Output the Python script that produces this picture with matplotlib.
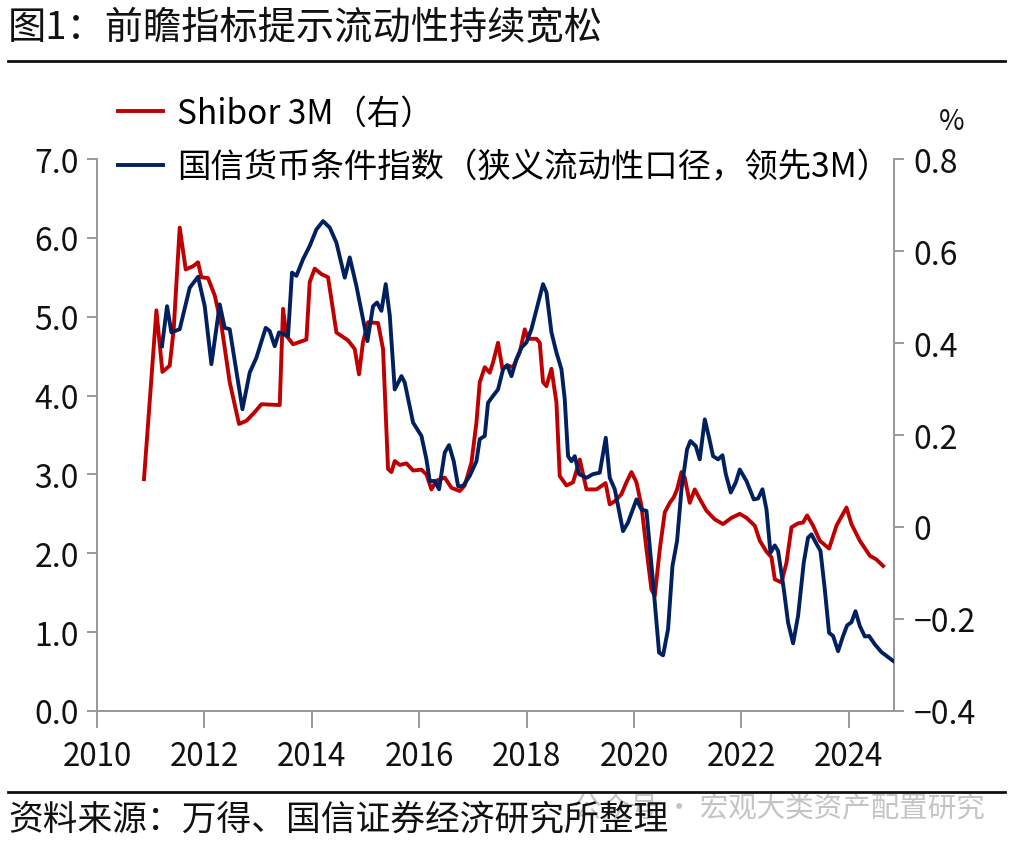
# -*- coding: utf-8 -*-
"""图1：前瞻指标提示流动性持续宽松 — Shibor 3M 与国信货币条件指数"""
import matplotlib
matplotlib.use("Agg")
import matplotlib.pyplot as plt
from matplotlib.lines import Line2D
from matplotlib.ticker import FuncFormatter, MultipleLocator

# ---------------------------------------------------------------- 数据
shibor_t = [2010.875, 2011.106, 2011.218, 2011.354, 2011.428, 2011.540, 2011.652,
            2011.788, 2011.881, 2011.944, 2012.067, 2012.192, 2012.317, 2012.471,
            2012.644, 2012.782, 2012.937, 2013.061, 2013.402, 2013.464, 2013.527,
            2013.650, 2013.899, 2013.961, 2014.054, 2014.179, 2014.302, 2014.458,
            2014.674, 2014.799, 2014.879, 2014.953, 2015.047, 2015.233, 2015.326,
            2015.419, 2015.482, 2015.544, 2015.637, 2015.762, 2015.885, 2016.041,
            2016.134, 2016.227, 2016.320, 2016.475, 2016.600, 2016.754, 2016.847,
            2016.972, 2017.065, 2017.127, 2017.220, 2017.313, 2017.374, 2017.467,
            2017.549, 2017.654, 2017.747, 2017.872, 2017.965, 2018.026, 2018.183,
            2018.244, 2018.305, 2018.369, 2018.462, 2018.555, 2018.616, 2018.741,
            2018.864, 2018.989, 2019.114, 2019.300, 2019.470, 2019.547, 2019.641,
            2019.765, 2019.858, 2019.951, 2020.045, 2020.138, 2020.231, 2020.324,
            2020.386, 2020.479, 2020.572, 2020.665, 2020.739, 2020.801, 2020.883,
            2020.944, 2021.037, 2021.130, 2021.223, 2021.348, 2021.503, 2021.657,
            2021.814, 2021.968, 2022.093, 2022.248, 2022.341, 2022.466, 2022.559,
            2022.620, 2022.745, 2022.838, 2022.931, 2023.054, 2023.147, 2023.222,
            2023.333, 2023.458, 2023.631, 2023.769, 2023.955, 2024.048, 2024.203,
            2024.389, 2024.514, 2024.637]
shibor_v = [2.94, 5.08, 4.30, 4.38, 4.84, 6.13, 5.60,
            5.64, 5.69, 5.50, 5.49, 5.27, 4.89, 4.17,
            3.64, 3.68, 3.79, 3.89, 3.88, 5.10, 4.76,
            4.65, 4.71, 5.44, 5.61, 5.54, 5.50, 4.80,
            4.70, 4.59, 4.27, 4.68, 4.93, 4.92, 4.59,
            3.07, 3.03, 3.17, 3.12, 3.14, 3.05, 3.06,
            3.00, 2.81, 2.92, 2.96, 2.83, 2.79, 2.86,
            3.15, 3.66, 4.17, 4.36, 4.29, 4.42, 4.67,
            4.34, 4.38, 4.36, 4.55, 4.84, 4.72, 4.72,
            4.67, 4.17, 4.12, 4.34, 3.91, 2.98, 2.86,
            2.90, 3.19, 2.81, 2.81, 2.89, 2.62, 2.66,
            2.75, 2.90, 3.03, 2.90, 2.60, 2.05, 1.54,
            1.46, 2.05, 2.52, 2.64, 2.71, 2.81, 3.03,
            2.96, 2.64, 2.81, 2.69, 2.54, 2.43, 2.37,
            2.45, 2.50, 2.45, 2.35, 2.16, 2.02, 1.95,
            1.67, 1.63, 1.88, 2.33, 2.38, 2.39, 2.48,
            2.35, 2.16, 2.06, 2.35, 2.58, 2.37, 2.16,
            1.97, 1.92, 1.84]

mci_t = [2011.210, 2011.304, 2011.385, 2011.540, 2011.726, 2011.881, 2012.006,
         2012.130, 2012.285, 2012.378, 2012.471, 2012.708, 2012.844, 2012.968,
         2013.141, 2013.216, 2013.309, 2013.389, 2013.557, 2013.631, 2013.713,
         2013.836, 2013.961, 2014.086, 2014.209, 2014.333, 2014.458, 2014.613,
         2014.706, 2014.830, 2015.035, 2015.140, 2015.214, 2015.296, 2015.376,
         2015.451, 2015.544, 2015.669, 2015.730, 2015.885, 2016.041, 2016.134,
         2016.196, 2016.289, 2016.369, 2016.475, 2016.555, 2016.642, 2016.723,
         2016.816, 2016.940, 2017.065, 2017.127, 2017.220, 2017.281, 2017.374,
         2017.467, 2017.561, 2017.635, 2017.717, 2017.810, 2017.903, 2017.996,
         2018.089, 2018.183, 2018.305, 2018.369, 2018.462, 2018.555, 2018.648,
         2018.709, 2018.771, 2018.834, 2018.896, 2018.976, 2019.114, 2019.236,
         2019.361, 2019.473, 2019.547, 2019.641, 2019.795, 2019.888, 2020.045,
         2020.138, 2020.231, 2020.354, 2020.466, 2020.540, 2020.633, 2020.715,
         2020.801, 2020.883, 2020.987, 2021.050, 2021.149, 2021.223, 2021.317,
         2021.397, 2021.471, 2021.564, 2021.646, 2021.708, 2021.801, 2021.894,
         2021.968, 2022.093, 2022.229, 2022.309, 2022.391, 2022.466, 2022.540,
         2022.620, 2022.682, 2022.788, 2022.868, 2022.961, 2023.054, 2023.160,
         2023.240, 2023.304, 2023.384, 2023.471, 2023.551, 2023.631, 2023.706,
         2023.799, 2023.892, 2023.966, 2024.048, 2024.123, 2024.203, 2024.296,
         2024.376, 2024.482, 2024.607, 2024.823]
mci_v = [0.393, 0.480, 0.423, 0.430, 0.520, 0.544, 0.480,
         0.354, 0.484, 0.433, 0.430, 0.256, 0.336, 0.368,
         0.433, 0.426, 0.393, 0.423, 0.415, 0.553, 0.546,
         0.582, 0.611, 0.647, 0.665, 0.651, 0.618, 0.542,
         0.586, 0.524, 0.404, 0.480, 0.488, 0.470, 0.528,
         0.460, 0.299, 0.328, 0.314, 0.227, 0.198, 0.147,
         0.100, 0.100, 0.082, 0.162, 0.178, 0.143, 0.089,
         0.089, 0.111, 0.143, 0.191, 0.198, 0.270, 0.285,
         0.299, 0.343, 0.352, 0.328, 0.365, 0.390, 0.401,
         0.430, 0.473, 0.528, 0.510, 0.423, 0.379, 0.343,
         0.278, 0.154, 0.143, 0.154, 0.115, 0.107, 0.115,
         0.118, 0.194, 0.107, 0.082, -0.009, 0.010, 0.060,
         0.038, 0.035, -0.121, -0.273, -0.279, -0.222, -0.085,
         -0.030, 0.082, 0.169, 0.187, 0.176, 0.147, 0.234,
         0.194, 0.154, 0.147, 0.156, 0.115, 0.075, 0.097,
         0.125, 0.100, 0.060, 0.062, 0.082, 0.038, -0.056,
         -0.040, -0.052, -0.135, -0.208, -0.253, -0.193, -0.077,
         -0.023, -0.016, -0.034, -0.052, -0.135, -0.230, -0.237,
         -0.270, -0.237, -0.214, -0.207, -0.183, -0.215, -0.238,
         -0.237, -0.255, -0.272, -0.291]

x_ticks = [2010, 2012, 2014, 2016, 2018, 2020, 2022, 2024]

TITLE = "图1：前瞻指标提示流动性持续宽松"
LABEL_SHIBOR = "Shibor 3M（右）"
LABEL_MCI = "国信货币条件指数（狭义流动性口径，领先3M）"
SOURCE = "资料来源：万得、国信证券经济研究所整理"
WATERMARK = "公众号 · 宏观大类资产配置研究"

# ---------------------------------------------------------------- 样式
RED = "#c00000"
NAVY = "#002060"
AXIS = "#9a9a9a"
INK = "#111111"

plt.rcParams["font.family"] = ["Noto Sans CJK SC", "DejaVu Sans"]
plt.rcParams["axes.unicode_minus"] = True

W, H = 1017, 853
fig = plt.figure(figsize=(W / 100, H / 100), dpi=100)
fig.patch.set_facecolor("white")

ax = fig.add_axes([97 / W, 1 - 712 / H, (894 - 97) / W, (712 - 160) / H])
ax2 = ax.twinx()

ax.plot(shibor_t, shibor_v, color=RED, lw=2.8, solid_joinstyle="round", zorder=3)
ax2.plot(mci_t, mci_v, color=NAVY, lw=2.8, solid_joinstyle="round", zorder=3)

ax.set_xlim(2010, 2024.84)
ax.set_ylim(0, 7)
ax2.set_ylim(-0.4, 0.8)
ax.set_xticks(x_ticks)
ax.yaxis.set_major_locator(MultipleLocator(1.0))
ax2.yaxis.set_major_locator(MultipleLocator(0.2))
ax.yaxis.set_major_formatter(FuncFormatter(lambda v, p: f"{v:.1f}"))
ax2.yaxis.set_major_formatter(FuncFormatter(
    lambda v, p: "0" if abs(v) < 1e-9 else f"{v:.1f}".replace("-", "−")))

for a in (ax, ax2):
    a.spines["top"].set_visible(False)
    for s in ("left", "right", "bottom"):
        a.spines[s].set_color(AXIS)
        a.spines[s].set_linewidth(1.4)
    a.tick_params(colors=AXIS, width=1.4, length=7, labelcolor=INK,
                  labelsize=23, direction="out")
ax.tick_params(axis="x", length=12, pad=9, labelsize=22.5)
ax.tick_params(axis="y", pad=6)
ax2.tick_params(axis="y", pad=7)

# 图例
handles = [Line2D([], [], color=RED, lw=2.8), Line2D([], [], color=NAVY, lw=2.8)]
fig.legend(handles, [LABEL_SHIBOR, LABEL_MCI], loc="upper left",
           bbox_to_anchor=(118 / W, 1 - 97 / H), frameon=False, fontsize=24,
           handlelength=1.35, handletextpad=0.42, labelspacing=0.55, borderpad=0,
           borderaxespad=0)
fig.text(952 / W, 1 - 122 / H, "%", fontsize=20, ha="center", va="center", color=INK)

# 标题与来源
fig.text(8 / W, 1 - 28 / H, TITLE, fontsize=27.5, ha="left", va="center", color=INK)
fig.add_artist(Line2D([8 / W, 1005 / W], [1 - 62 / H, 1 - 62 / H], color=INK, lw=2))
fig.add_artist(Line2D([8 / W, 1005 / W], [1 - 793 / H, 1 - 793 / H], color=INK, lw=2))
fig.text(985 / W, 1 - 808 / H, WATERMARK, fontsize=20.5, ha="right", va="center",
         color="#c4c4c4", zorder=1)
fig.text(8 / W, 1 - 820 / H, SOURCE, fontsize=25, ha="left", va="center", color=INK,
         zorder=5)

fig.savefig("out.png", dpi=100, facecolor="white")
